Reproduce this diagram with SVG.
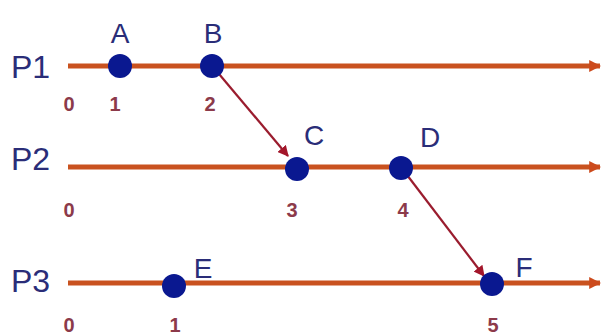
<svg xmlns="http://www.w3.org/2000/svg" width="607" height="335" viewBox="0 0 607 335">
<defs>
<marker id="tl" viewBox="0 0 10 10" refX="9" refY="5" markerWidth="2.4" markerHeight="2.6" orient="auto" markerUnits="strokeWidth"><path d="M0,0 L10,5 L0,10 z" fill="#cc4a1c"/></marker>
<marker id="msg" viewBox="0 0 10 10" refX="9" refY="5" markerWidth="5" markerHeight="5" orient="auto" markerUnits="strokeWidth"><path d="M0,0 L10,5 L0,10 z" fill="#a3162a"/></marker>
</defs>
<style>
.tl{stroke:#c9521f;stroke-width:5;fill:none}
.msg{stroke:#9a1c2e;stroke-width:2.2;fill:none}
.dot{fill:#0a1890}
.pl{font-family:"Liberation Sans",Arial,sans-serif;font-size:32px;fill:#2a2d78}
.ev{font-family:"Liberation Sans",Arial,sans-serif;font-size:28px;fill:#2a2d78;text-anchor:middle}
.num{font-family:"Liberation Sans",Arial,sans-serif;font-size:20px;font-weight:bold;fill:#8c3a4a;text-anchor:middle}
</style>
<rect width="607" height="335" fill="#ffffff"/>
<g id="timelines">
<line class="tl" x1="68" y1="66" x2="600" y2="66" marker-end="url(#tl)"/>
<line class="tl" x1="68" y1="167" x2="600" y2="167" marker-end="url(#tl)"/>
<line class="tl" x1="68" y1="283" x2="600" y2="283" marker-end="url(#tl)"/>
</g>
<g id="connectors">
<line class="msg" x1="214" y1="68" x2="288" y2="156" marker-end="url(#msg)"/>
<line class="msg" x1="404" y1="171" x2="484" y2="276" marker-end="url(#msg)"/>
</g>
<g id="P1"><text class="pl" x="11" y="78">P1</text></g>
<g id="P2"><text class="pl" x="11" y="170">P2</text></g>
<g id="P3"><text class="pl" x="11" y="292">P3</text></g>
<g id="A"><circle class="dot" cx="120" cy="66" r="12"/><text class="ev" x="120" y="43">A</text></g>
<g id="B"><circle class="dot" cx="212" cy="66" r="12"/><text class="ev" x="213" y="43">B</text></g>
<g id="C"><circle class="dot" cx="297" cy="169" r="12"/><text class="ev" x="314" y="145">C</text></g>
<g id="D"><circle class="dot" cx="401" cy="168" r="12"/><text class="ev" x="430" y="147">D</text></g>
<g id="E"><circle class="dot" cx="174" cy="286" r="12"/><text class="ev" x="203" y="278">E</text></g>
<g id="F"><circle class="dot" cx="492" cy="284" r="12"/><text class="ev" x="524" y="277">F</text></g>
<g id="numbers">
<text class="num" x="69" y="111">0</text>
<text class="num" x="115" y="111">1</text>
<text class="num" x="210" y="111">2</text>
<text class="num" x="69" y="217">0</text>
<text class="num" x="292" y="217">3</text>
<text class="num" x="403" y="217">4</text>
<text class="num" x="69" y="332">0</text>
<text class="num" x="175" y="332">1</text>
<text class="num" x="493" y="332">5</text>
</g>
</svg>
